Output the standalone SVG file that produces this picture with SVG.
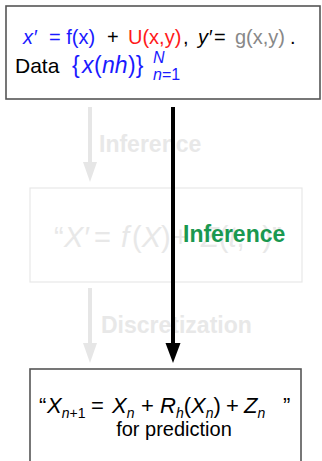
<svg xmlns="http://www.w3.org/2000/svg" width="322" height="461" viewBox="0 0 322 461">
<style>
text{font-family:"Liberation Sans",Arial,sans-serif;font-size:20px}
.it{font-style:italic}
.sub{font-size:14px}
.faded{fill:#e8e8e8}
.lbl{font-weight:bold;font-size:23px}
.box{fill:#fff;stroke:#555;stroke-width:1.6}
.fbox{fill:none;stroke:#e8e8e8;stroke-width:1.2}
.blue{fill:#1a1aff}
</style>
<g id="connectors">
<line x1="90" y1="107" x2="90" y2="163" stroke="#e6e6e6" stroke-width="4"/>
<path d="M83,162 L97,162 L90,182 Z" fill="#e6e6e6"/>
<line x1="90" y1="288" x2="90" y2="344" stroke="#e6e6e6" stroke-width="4"/>
<path d="M83,343 L97,343 L90,363 Z" fill="#e6e6e6"/>
<text class="lbl faded" x="99" y="152">Inference</text>
<text class="lbl faded" x="101" y="333">Discretization</text>
</g>
<g id="faded-node">
<rect class="fbox" x="30" y="188" width="272" height="94"/>
<text class="faded" y="247" style="font-size:29px"><tspan x="54">“</tspan><tspan x="64" class="it">X′</tspan><tspan x="94">=</tspan><tspan x="121" class="it">f</tspan><tspan x="132">(</tspan><tspan class="it">X</tspan><tspan>)</tspan><tspan x="172">+</tspan><tspan x="201" class="it">Z</tspan><tspan>(</tspan><tspan class="it">t</tspan><tspan>, ·)”</tspan></text>
</g>
<g id="top-node">
<rect class="box" x="6" y="6" width="314" height="93"/>
<text y="44"><tspan x="23" class="it blue">x′</tspan><tspan x="49" class="blue">= f(x)</tspan><tspan x="107">+</tspan><tspan x="128" fill="#ff1a1a">U(x,y)</tspan><tspan x="183">,</tspan><tspan x="198" class="it">y′</tspan><tspan x="214">=</tspan><tspan x="235" fill="#888">g(x,y)</tspan><tspan x="290">.</tspan></text>
<text y="73"><tspan x="15" style="font-size:21px">Data</tspan><tspan x="72" class="blue" style="font-size:23px">{</tspan><tspan x="82" class="it blue" style="font-size:23px">x</tspan><tspan x="94" class="blue" style="font-size:23px">(</tspan><tspan x="102" class="it blue" style="font-size:23px">nh</tspan><tspan x="128" class="blue" style="font-size:23px">)}</tspan></text>
<text class="it blue" x="153" y="63" style="font-size:16px">N</text>
<text class="blue" x="153" y="80" style="font-size:16px"><tspan class="it">n</tspan>=1</text>
</g>
<g id="bottom-node">
<rect class="box" x="30" y="369" width="271" height="100"/>
<text y="413" style="font-size:22px"><tspan x="39">“</tspan><tspan x="47" class="it">X</tspan><tspan class="sub" dy="5"><tspan class="it">n</tspan>+1</tspan><tspan x="91" dy="-5">=</tspan><tspan x="112" class="it">X</tspan><tspan class="sub it" dy="5">n</tspan><tspan x="141" dy="-5">+</tspan><tspan x="160" class="it">R</tspan><tspan class="sub it" dy="5">h</tspan><tspan dy="-5">(</tspan><tspan class="it">X</tspan><tspan class="sub it" dy="5">n</tspan><tspan dy="-5">)</tspan><tspan x="226">+</tspan><tspan x="244" class="it">Z</tspan><tspan class="sub it" dy="5">n</tspan><tspan x="283" dy="-5">”</tspan></text>
<text x="174" y="436" text-anchor="middle">for prediction</text>
</g>
<g id="main-arrow">
<line x1="173" y1="107" x2="173" y2="345" stroke="#000" stroke-width="4"/>
<path d="M165.5,343 L180.5,343 L173,363 Z" fill="#000"/>
<text class="lbl" x="183" y="242" fill="#1a9850">Inference</text>
</g>
</svg>
